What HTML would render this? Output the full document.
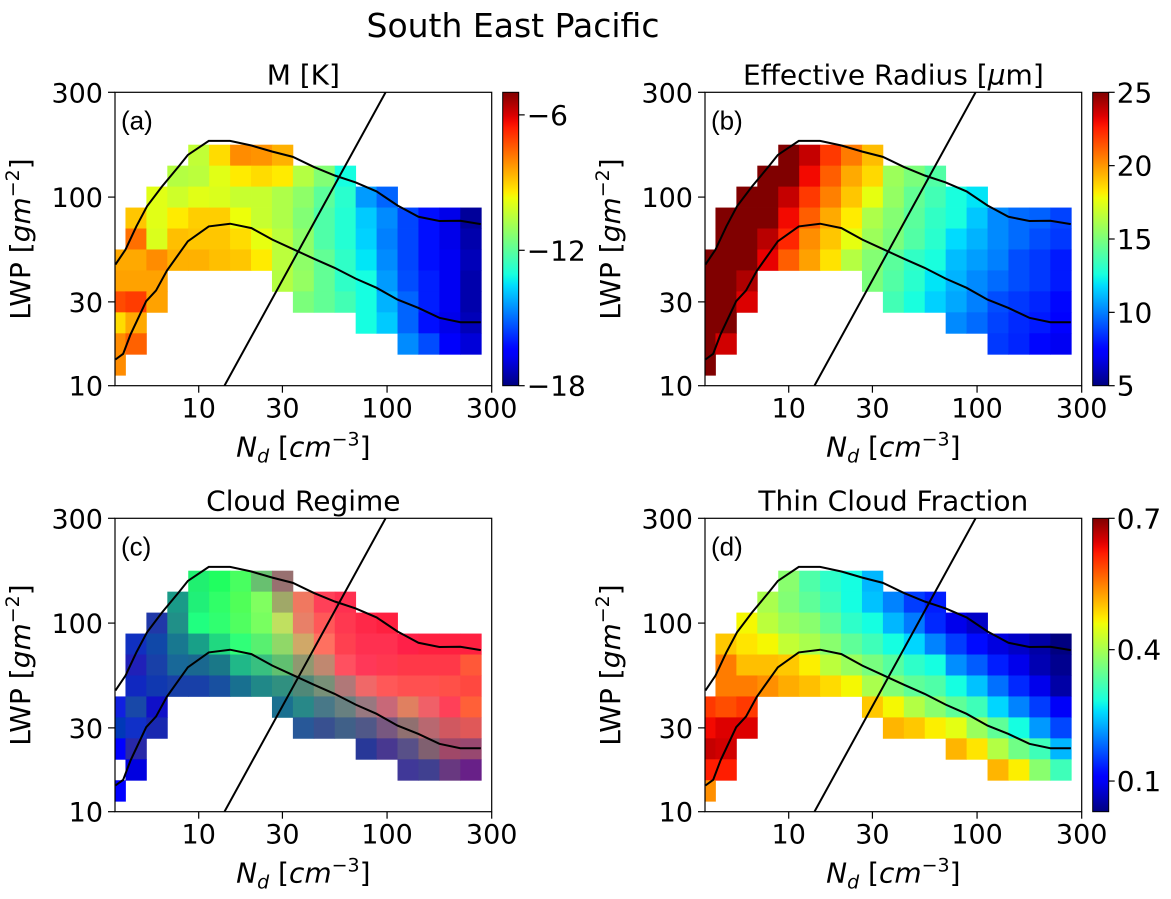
<!DOCTYPE html>
<html><head><meta charset="utf-8">
<style>
html,body{margin:0;padding:0;background:#fff;}
svg{display:block;font-family:"DejaVu Sans","Liberation Sans",sans-serif;}
</style></head>
<body>
<svg id="fig" width="1171" height="899" viewBox="0 0 1171 899" xmlns="http://www.w3.org/2000/svg">
<rect width="1171" height="899" fill="#fff"/>
<text x="513" y="37" font-size="33" text-anchor="middle">South East Pacific</text>
</svg>
<script>
// ---- data: axis bins (Nd bin index / LWP bin index) ----
const xTickLabels = ["10","30","100","300"];
const xTickBins = [4, 8, 13, 18];
const yTickLabels = ["300","100","30","10"];
const yTickBins = [14, 9, 4, 0];
const topRowBin = 11; // LWP bin of first grid row
const N = null;
// Panel (a) M [K]
const gridM = [
[N,N,N,N,-10.4,-9.2,-8.1,-8.2,-8.6,N,N,N,N,N,N,N,N,N],
[N,N,N,-10.6,-10.5,-9.9,-9.4,-9.2,-9.4,-10.6,-11.4,-13.1,N,N,N,N,N,N],
[N,N,-9.9,-10.2,-9.9,-10,-10.3,-10.3,-10.7,-11.2,-12,-12.8,-14.4,-15.1,N,N,N,N],
[N,-8.9,-9.9,-9.4,-9,-9,-9.7,-10.3,-10.7,-11.4,-12.2,-12.9,-13.8,-14.6,-15.5,-16.2,-16.8,-17.7],
[N,-7.7,-10,-8.8,-8.9,-8.9,-9.2,-9.8,-10.5,-11.2,-12.2,-12.9,-13.7,-14.75,-15.5,-16.2,-16.8,-17.5],
[-8.5,-8.5,-8.1,-8.6,-8.6,-8.8,-8.9,-9.4,-10.5,-11.2,-11.9,-12.7,-13.45,-14.6,-15.5,-16.2,-16.7,-17.35],
[-8.4,-8.4,-8.4,N,N,N,N,N,-10.6,-11.1,-11.9,-12.7,-13.1,-14.4,-15.4,-16,-16.7,-17.5],
[-7.2,-7,-8.4,N,N,N,N,N,N,-11.5,-11.9,-12.4,-13.1,-14.1,-15.1,-16,-16.7,-17.5],
[-9.2,-8.5,N,N,N,N,N,N,N,N,N,N,-13.1,-13.8,-15.1,-16.2,-16.8,-17.35],
[-8.1,-7.5,N,N,N,N,N,N,N,N,N,N,N,N,-14.6,-15.4,-16.6,-17],
[-8.1,N,N,N,N,N,N,N,N,N,N,N,N,N,N,N,N,N]
];
// Panel (b) Effective radius [um]
const gridRe = [
[N,N,N,N,25,23.8,22,20.6,19.2,N,N,N,N,N,N,N,N,N],
[N,N,N,25,25,23,21.2,19.6,18.6,15.8,15,14,N,N,N,N,N,N],
[N,N,25,25,23.8,22,20.5,19,17.6,15.6,14.4,13.6,12.6,12,N,N,N,N],
[N,25,25,25,23,21.2,19.6,18.2,16.2,15.2,14.2,13.2,12.6,11.4,10.2,9.6,9.4,8.8],
[N,25,25,24,22.4,20.2,19,17.6,15.8,15,14,13,11.8,11,10.2,9.6,9,8.6],
[25,25,25,23.2,21.2,19.8,18.4,16.4,15.2,14.2,13.2,12.6,11.2,10.6,10,9,8.6,8],
[25,25,24.2,N,N,N,N,N,15,14,13,12,11,10.2,9.6,9,8.6,8],
[25,25,23.4,N,N,N,N,N,N,13.6,12.6,11.6,10.8,10,9,8.6,8.2,7.6],
[25,25,N,N,N,N,N,N,N,N,N,N,10.2,9.6,8.8,8.3,8,7.4],
[25,23.6,N,N,N,N,N,N,N,N,N,N,N,N,8.6,8.2,7.6,7],
[25.5,N,N,N,N,N,N,N,N,N,N,N,N,N,N,N,N,N]
];
// Panel (c) Cloud regime RGB composite
const gridRegime = [
[N,N,N,N,"#20f070","#20ff60","#48ff60","#68c070","#987070",N,N,N,N,N,N,N,N,N],
[N,N,N,"#1a9a88","#20f078","#30ff68","#50ff58","#80ff60","#a0a868","#f07860","#ff4058","#ff3050",N,N,N,N,N,N],
[N,N,"#2038a8","#209088","#20ff80","#30ff70","#50ff60","#78ff60","#c0e060","#e88068","#ff5858","#ff3850","#ff2848","#ff2040",N,N,N,N],
[N,"#1030c0","#1048a8","#187890","#18a088","#20d880","#30ff78","#58f070","#90d868","#d0a868","#ff7060","#ff4050","#ff3050","#ff3050","#ff2048","#ff2040","#ff2040","#ff2040"],
[N,"#2020b8","#1840a8","#186898","#1a6890","#1a7888","#20b888","#38c080","#60c070","#909870","#c08870","#ff5060","#ff3858","#ff3850","#ff3848","#ff3848","#ff3848","#ff5838"],
[N,"#1028c0","#1038b0","#1840a8","#1840a8","#1850a0","#187090","#208888","#309080","#508878","#789078","#b07878","#f06868","#ff5858","#ff5050","#ff5050","#ff5048","#ff4840"],
["#1020e0","#1848a8","#1010c8",N,N,N,N,N,"#1a7090","#288888","#487888","#688080","#987880","#c86878","#e08060","#f06068","#ff4058","#ff6038"],
["#0038b8","#1030c8","#1828b0",N,N,N,N,N,N,"#285898","#385090","#406088","#505888","#785880","#907070","#b86870","#d05860","#e05858"],
["#0000ff","#2828a8",N,N,N,N,N,N,N,N,N,N,"#283898","#483890","#585088","#806070","#a04868","#984870"],
[N,"#0000e0",N,N,N,N,N,N,N,N,N,N,N,N,"#403898","#404090","#683880","#682088"],
["#0000ff",N,N,N,N,N,N,N,N,N,N,N,N,N,N,N,N,N]
];
// Panel (d) Thin cloud fraction
const gridThin = [
[N,N,N,N,0.376,0.329,0.302,0.282,0.234,N,N,N,N,N,N,N,N,N],
[N,N,N,0.403,0.37,0.342,0.315,0.282,0.241,0.2,0.153,0.133,N,N,N,N,N,N],
[N,N,0.464,0.417,0.39,0.376,0.342,0.302,0.282,0.234,0.194,0.14,0.093,0.072,N,N,N,N],
[N,0.498,0.477,0.464,0.423,0.403,0.376,0.342,0.315,0.282,0.254,0.2,0.153,0.12,0.086,0.072,0.052,0.028],
[N,0.552,0.504,0.504,0.498,0.47,0.417,0.39,0.362,0.335,0.302,0.282,0.207,0.174,0.133,0.093,0.059,0.039],
[N,0.552,0.552,0.538,0.518,0.504,0.484,0.464,0.403,0.37,0.342,0.329,0.282,0.241,0.187,0.14,0.093,0.052],
[0.6,0.585,0.599,N,N,N,N,N,0.498,0.464,0.41,0.376,0.342,0.315,0.254,0.2,0.153,0.1],
[0.633,0.646,0.646,N,N,N,N,N,N,0.511,0.498,0.47,0.45,0.39,0.342,0.282,0.214,0.16],
[0.66,0.653,N,N,N,N,N,N,N,N,N,N,0.511,0.477,0.41,0.356,0.315,0.234],
[0.619,0.619,N,N,N,N,N,N,N,N,N,N,N,N,0.511,0.47,0.376,0.315],
[0.538,N,N,N,N,N,N,N,N,N,N,N,N,N,N,N,N,N]
];
// Contour lines (Nd bin, LWP bin) and adiabatic line
const upperU = [0.02,0.5,1.02,1.53,2.25,3.04,3.48,4.48,5.5,6.52,7.52,8.5,9.5,10.5,11.5,12.5,13.5,14.5,15.5,16.5,17.48];
const upperV = [5.78,6.49,7.6,8.56,9.51,10.46,11.01,11.68,11.68,11.46,11.17,10.92,10.44,10.03,9.7,9.27,8.6,8.06,7.86,7.87,7.71];
const lowerU = [0.02,0.39,0.74,1.49,1.96,2.48,3.48,4.48,5.5,6.52,7.52,8.5,9.5,10.5,11.5,12.5,13.5,14.5,15.5,16.5,17.48];
const lowerV = [1.25,1.52,2.44,4.03,4.54,5.49,6.89,7.6,7.73,7.52,6.97,6.52,6.06,5.62,5.11,4.67,4.11,3.71,3.24,3.03,3.03];
const diagU = [5.23, 12.93];
const diagV = [0, 14];
// colorbars
const cbarM = {min:-18, max:-5, ticks:[-6,-12,-18], labels:["\u22126","\u221212","\u221218"]};
const cbarRe = {min:5, max:25, ticks:[25,20,15,10,5], labels:["25","20","15","10","5"]};
const cbarThin = {min:0.03, max:0.7, ticks:[0.7,0.4,0.1], labels:["0.7","0.4","0.1"]};

const NS = "http://www.w3.org/2000/svg";
const svg = document.getElementById('fig');
const AW = 376.7, AH = 293.4, XU = 18, YU = 14;
const FT = 27; // tick font size
const FL = 28; // label font size

function jet(t){
  t = Math.max(0, Math.min(1, t));
  function interp(pts){
    for (let i=1;i<pts.length;i++){ if (t<=pts[i][0]){ const a=pts[i-1], b=pts[i]; return a[1]+(b[1]-a[1])*(t-a[0])/(b[0]-a[0]); } }
    return pts[pts.length-1][1];
  }
  const r = interp([[0,0],[0.35,0],[0.66,1],[0.89,1],[1,0.5]]);
  const g = interp([[0,0],[0.125,0],[0.375,1],[0.64,1],[0.91,0],[1,0]]);
  const b = interp([[0,0.5],[0.11,1],[0.34,1],[0.65,0],[1,0]]);
  return `rgb(${Math.round(r*255)},${Math.round(g*255)},${Math.round(b*255)})`;
}
function el(tag, attrs, parent){
  const e = document.createElementNS(NS, tag);
  for (const k in attrs) e.setAttribute(k, attrs[k]);
  (parent||svg).appendChild(e);
  return e;
}
function txt(s, attrs, parent){ const t = el('text', attrs, parent); t.textContent = s; return t; }

function panel(p){
  const x0 = p.x0, y0 = p.y0;
  const xs = u => x0 + u*AW/XU;
  const ys = v => y0 + AH - v*AH/YU;
  const g = el('g', {});
  
  
  const cp = el('clipPath', {id:'clip-'+p.name}, g);
  el('rect', {x:x0, y:y0, width:AW, height:AH}, cp);
  const cells = el('g', {'clip-path':'url(#clip-'+p.name+')'}, g);
  
  
  p.grid.forEach((row, j) => {
    const k = topRowBin - j;
    row.forEach((val, i) => {
      if (val === null) return;
      const fill = p.cbar ? jet((val - p.cbar.min)/(p.cbar.max - p.cbar.min)) : val;
      const r = el('rect', {x:xs(i-0.5), y:ys(k+0.5), width:xs(i+0.5)-xs(i-0.5)+0.4, height:ys(k-0.5)-ys(k+0.5)+0.4, fill:fill}, cells);
      
      
    });
  });
  const lines = el('g', {'clip-path':'url(#clip-'+p.name+')', fill:'none', stroke:'#000', 'stroke-width':2}, g);
  const up = el('polyline', {points: upperU.map((u,i)=>xs(u)+','+ys(upperV[i])).join(' ')}, lines);
  
  
  const lo = el('polyline', {points: lowerU.map((u,i)=>xs(u)+','+ys(lowerV[i])).join(' ')}, lines);
  
  
  const dg = el('polyline', {points: diagU.map((u,i)=>xs(u)+','+ys(diagV[i])).join(' ')}, lines);
  
  
  const fr = el('rect', {x:x0, y:y0, width:AW, height:AH, fill:'none', stroke:'#000', 'stroke-width':1.2}, g);
  
  
  // ticks
  xTickBins.forEach((b, i) => {
    el('line', {x1:xs(b), x2:xs(b), y1:y0+AH, y2:y0+AH+7, stroke:'#000', 'stroke-width':1.2}, g);
    const t = txt(xTickLabels[i], {x:xs(b), y:y0+AH+32, 'font-size':FT, 'text-anchor':'middle'}, g);
    
    
  });
  yTickBins.forEach((b, i) => {
    el('line', {x1:x0-7, x2:x0, y1:ys(b), y2:ys(b), stroke:'#000', 'stroke-width':1.2}, g);
    const t = txt(yTickLabels[i], {x:x0-12, y:ys(b)+10, 'font-size':FT, 'text-anchor':'end'}, g);
    
    
  });
  const xl = txt('', {x:x0+AW/2, y:y0+AH+71, 'font-size':FL, 'text-anchor':'middle'}, g);
  xl.innerHTML = '<tspan font-style="italic">N</tspan><tspan font-style="italic" font-size="19" dy="6">d</tspan><tspan dy="-6"> [</tspan><tspan font-style="italic">cm</tspan><tspan font-size="19" dy="-11">\u22123</tspan><tspan dy="11">]</tspan>';
  
  
  const cy = y0+AH/2, cx = x0-85;
  const yl = txt('', {x:cx, y:cy, 'font-size':FL, 'text-anchor':'middle', transform:`rotate(-90 ${cx} ${cy})`}, g);
  yl.innerHTML = 'LWP [<tspan font-style="italic">gm</tspan><tspan font-size="19" dy="-11">\u22122</tspan><tspan dy="11">]</tspan>';
  
  
  const tt = txt('', {x:x0+AW/2, y:y0-8, 'font-size':FL, 'text-anchor':'middle'}, g);
  tt.innerHTML = p.title;
  
  
  const lb = txt(p.letter, {x:x0+6, y:y0+37, 'font-size':26, 'font-family':'Liberation Sans, sans-serif'}, g);
  
  
  if (p.cbar){
    const bx = x0+AW+11, bw = 16;
    const gid = 'grad-'+p.name;
    const defs = el('defs', {}, g);
    const lg = el('linearGradient', {id:gid, x1:0, y1:1, x2:0, y2:0}, defs);
    for (let s=0;s<=50;s++){ el('stop', {offset:s/50, 'stop-color':jet(s/50)}, lg); }
    const cb = el('rect', {x:bx, y:y0, width:bw, height:AH, fill:'url(#'+gid+')', stroke:'#000', 'stroke-width':1}, g);
    
    
    const cs = v => y0 + AH - (v - p.cbar.min)/(p.cbar.max - p.cbar.min)*AH;
    p.cbar.ticks.forEach((v, i) => {
      el('line', {x1:bx+bw, x2:bx+bw+6, y1:cs(v), y2:cs(v), stroke:'#000', 'stroke-width':1.2}, g);
      const t = txt(p.cbar.labels[i], {x:bx+bw+8, y:cs(v)+10, 'font-size':28}, g);
      
      
    });
  }
}
panel({name:'panel-m', x0:115, y0:92.3, grid:gridM, cbar:cbarM, title:'M [K]', letter:'(a)'});
panel({name:'panel-effective-radius', x0:705, y0:92.3, grid:gridRe, cbar:cbarRe, title:'Effective Radius [<tspan font-style="italic">\u03bc</tspan>m]', letter:'(b)'});
panel({name:'panel-cloud-regime', x0:115, y0:518.3, grid:gridRegime, cbar:null, title:'Cloud Regime', letter:'(c)'});
panel({name:'panel-thin-cloud-fraction', x0:705, y0:518.3, grid:gridThin, cbar:cbarThin, title:'Thin Cloud Fraction', letter:'(d)'});
</script>
</body></html>
